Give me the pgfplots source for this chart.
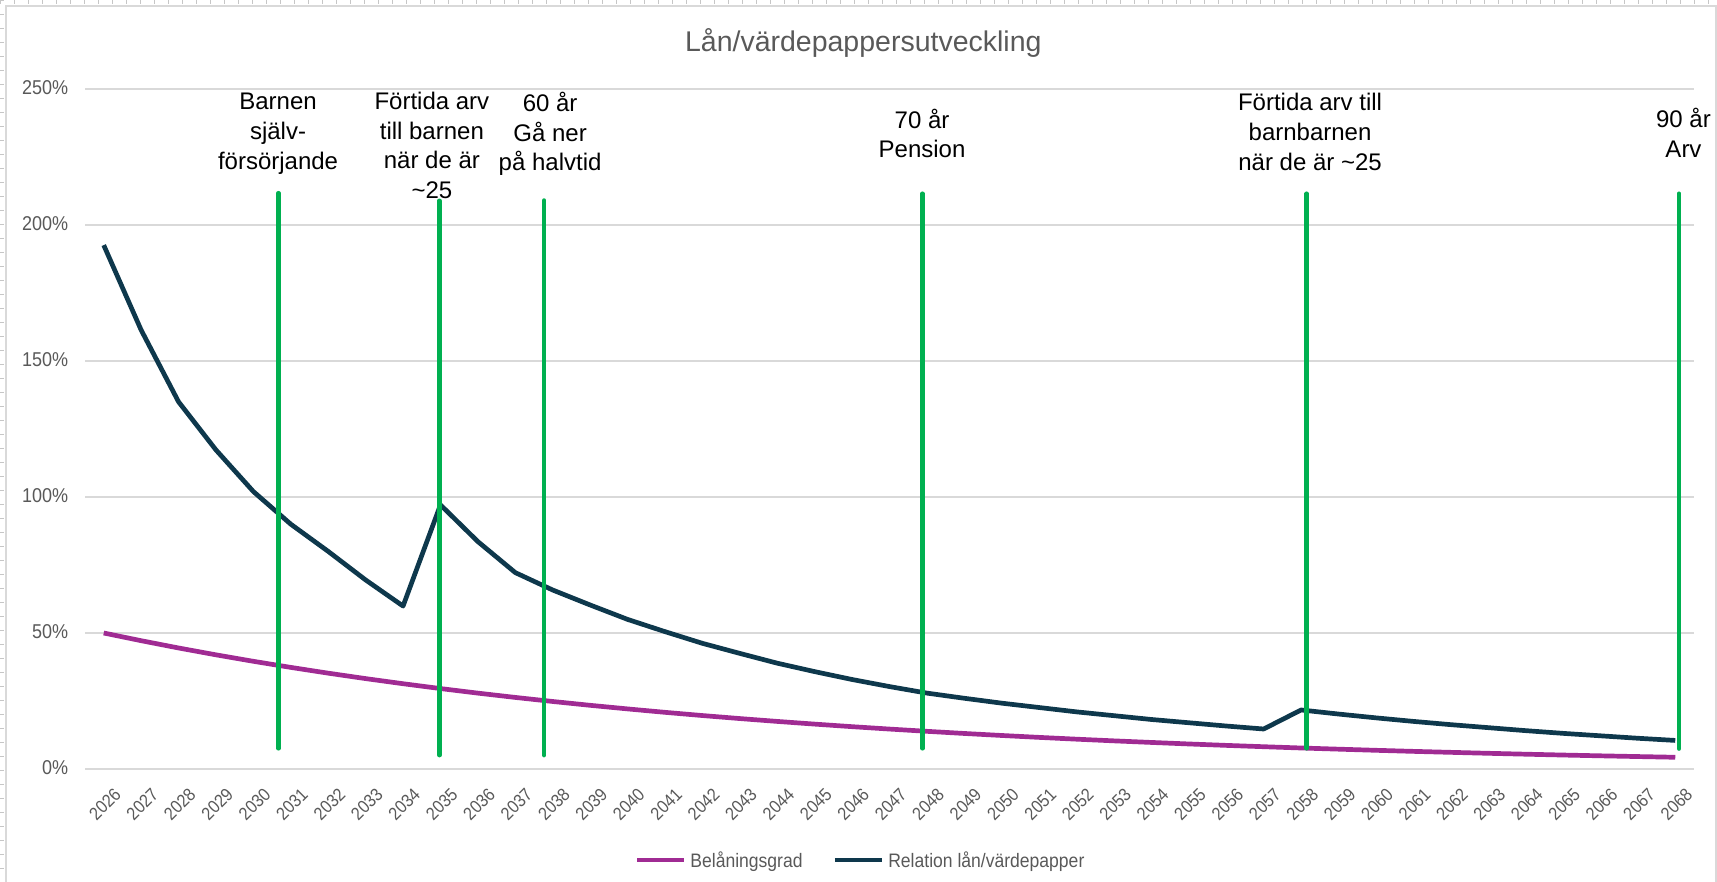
\documentclass[border=0pt]{standalone}
\usepackage{fontspec}
\setmainfont{Liberation Sans}
\newfontfamily\narrowfont[FakeStretch=0.9]{Liberation Sans}
\usepackage{pgfplots}
\pgfplotsset{compat=1.18}
\definecolor{blueline}{HTML}{0E384C}
\definecolor{purpleline}{HTML}{A02B93}
\definecolor{greenline}{HTML}{00B050}
\definecolor{gridc}{HTML}{D9D9D9}
\definecolor{textgray}{HTML}{595959}

\pgfplotstableread{
i  bel   rel
0  50.00 192.6
1  47.17 161.4
2  44.49 135.0
3  41.97 117.3
4  39.59 102.0
5  37.35 90.0
6  35.23 80.0
7  33.23 69.5
8  31.35 59.9
9  29.57 97.1
10 27.89 83.6
11 26.31 72.2
12 24.82 65.8
13 23.41 60.3
14 22.09 55.0
15 20.83 50.5
16 19.65 46.2
17 18.54 42.5
18 17.49 38.9
19 16.50 35.8
20 15.56 32.9
21 14.68 30.3
22 13.85 27.9
23 13.06 26.0
24 12.32 24.2
25 11.62 22.6
26 10.96 21.0
27 10.34 19.6
28 9.76  18.2
29 9.20  17.0
30 8.68  15.8
31 8.19  14.7
32 7.72  21.7
33 7.29  20.2
34 6.87  18.8
35 6.48  17.5
36 6.12  16.3
37 5.77  15.2
38 5.44  14.1
39 5.13  13.1
40 4.84  12.2
41 4.57  11.3
42 4.31  10.5
}\datatable

\begin{document}
\begin{tikzpicture}[x=1pt,y=1pt]
\path[use as bounding box] (0,0) rectangle (1717,882);
% spreadsheet cell marks outside the chart
\draw[color=gray!45, line width=4pt, dash pattern=on 1pt off 13pt] (2,882) -- (2,0);
\draw[color=gray!45, line width=4pt, dash pattern=on 1pt off 13pt] (0,880) -- (1717,880);
% chart area border
\draw[color=gridc, line width=2pt] (6,0) -- (6,876.3) -- (1715.5,876.3) -- (1715.5,0);
\begin{axis}[
  at={(85pt,113pt)}, anchor=south west,
  scale only axis, width=1609pt, height=680pt,
  xmin=-0.5, xmax=42.5, ymin=0, ymax=250,
  clip=false,
  axis line style={draw=none},
  major tick style={draw=none},
  major tick length=0pt,
  ytick={0,50,100,150,200,250},
  yticklabels={0\%,50\%,100\%,150\%,200\%,250\%},
  ymajorgrids, grid style={color=gridc, line width=1.5pt},
  yticklabel style={font=\narrowfont\fontsize{20}{22}\selectfont, text=textgray, anchor=east, inner sep=0pt, xshift=-16.7pt, yshift=1.5pt},
  xtick={0,1,2,3,4,5,6,7,8,9,10,11,12,13,14,15,16,17,18,19,20,21,22,23,24,25,26,27,28,29,30,31,32,33,34,35,36,37,38,39,40,41,42},
  xticklabels={2026,2027,2028,2029,2030,2031,2032,2033,2034,2035,2036,2037,2038,2039,2040,2041,2042,2043,2044,2045,2046,2047,2048,2049,2050,2051,2052,2053,2054,2055,2056,2057,2058,2059,2060,2061,2062,2063,2064,2065,2066,2067,2068},
  xticklabel style={font=\narrowfont\fontsize{18}{20}\selectfont, text=textgray, rotate=45, anchor=north east, inner sep=0pt, xshift=-5.7pt, yshift=-19pt},
  legend style={at={(axis description cs:0.4814,-0.1338)}, anchor=center, draw=none, fill=none, inner sep=0pt, outer sep=0pt,
    font=\narrowfont\fontsize{19.5}{21}\selectfont, text=textgray, legend columns=2,
    /tikz/every even column/.append style={column sep=30pt},
    nodes={inner sep=0pt}},
  legend image code/.code={\draw[#1, line width=4.7pt, line cap=butt] (0pt,0pt) -- (47pt,0pt);},
]
\addplot[purpleline, line width=4.7pt, line join=round] table[x=i, y=bel] {\datatable};
\addlegendentry{\hspace{4pt}Belåningsgrad}
\addplot[blueline, line width=4.7pt, line join=round] table[x=i, y=rel] {\datatable};
\addlegendentry{\hspace{4pt}Relation lån/värdepapper}

\addplot[greenline, line width=4.5pt, line cap=round, forget plot] coordinates {(4.67,7.6) (4.67,211.7)};
\addplot[greenline, line width=4.5pt, line cap=round, forget plot] coordinates {(8.97,5.1) (8.97,208.9)};
\addplot[greenline, line width=4.5pt, line cap=round, forget plot] coordinates {(11.77,5.1) (11.77,209.0)};
\addplot[greenline, line width=4.5pt, line cap=round, forget plot] coordinates {(21.88,7.6) (21.88,211.5)};
\addplot[greenline, line width=4.5pt, line cap=round, forget plot] coordinates {(32.15,7.6) (32.15,211.5)};
\addplot[greenline, line width=4.5pt, line cap=round, forget plot] coordinates {(42.1,7.5) (42.1,211.5)};

\begin{scope}[every node/.style={font=\fontsize{24}{29.8}\selectfont, align=center, anchor=north, inner sep=0pt, text=black}]
\node at (axis cs:4.66,248.5) {Barnen\\själv-\\försörjande};
\node at (axis cs:8.77,249.0) {Förtida arv\\till barnen\\när de är\\\textasciitilde25};
\node at (axis cs:11.93,249.0) {60 år\\Gå ner\\på halvtid};
\node at (axis cs:21.87,242.8) {70 år\\Pension};
\node at (axis cs:32.24,248.4) {Förtida arv till\\barnbarnen\\när de är \textasciitilde25};
\node at (axis cs:42.22,242.9) {90 år\\Arv};
\end{scope}
\end{axis}
\node[anchor=base, inner sep=0pt, text=textgray, font=\fontsize{28.5}{30}\selectfont] at (863.3,830.7) {Lån/värdepappersutveckling};
\end{tikzpicture}
\end{document}
